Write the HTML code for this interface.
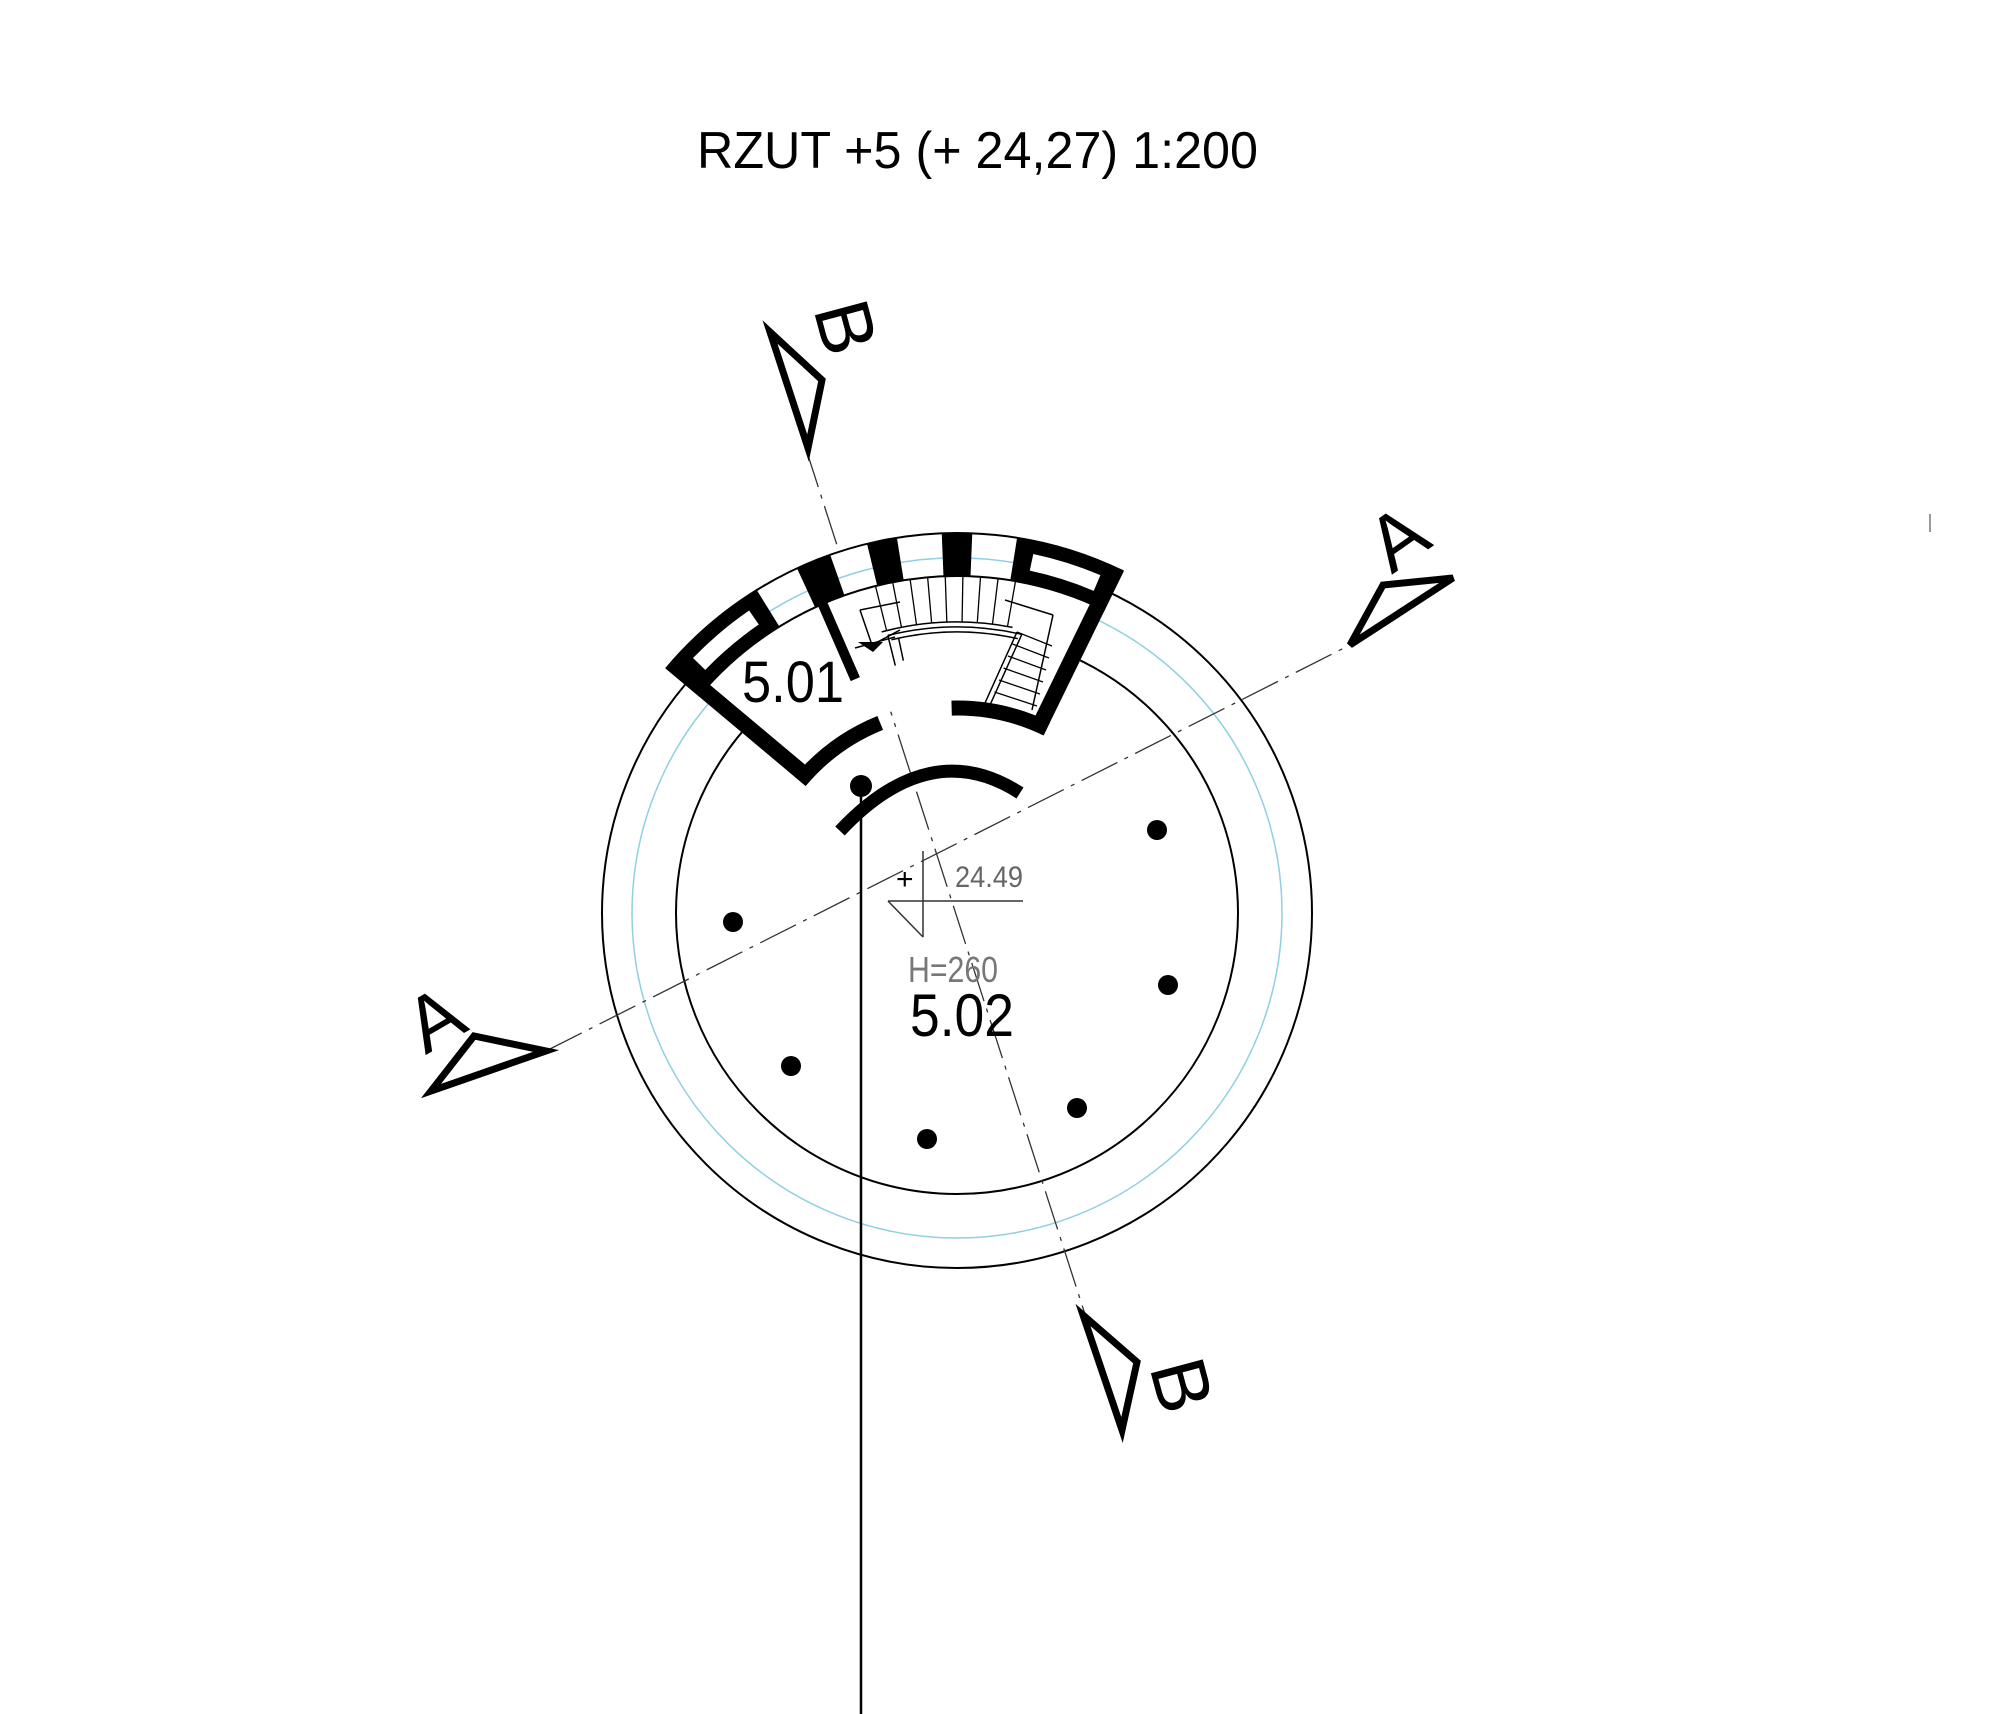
<!DOCTYPE html>
<html><head><meta charset="utf-8"><style>
html,body{margin:0;padding:0;background:#fff;}
svg{display:block;}
text{font-family:"Liberation Sans",sans-serif;}
</style></head><body>
<svg id="s" width="2000" height="1714" viewBox="0 0 2000 1714" xmlns="http://www.w3.org/2000/svg">
<rect width="2000" height="1714" fill="#fff"/>
<text x="697" y="168" font-size="52" textLength="561" lengthAdjust="spacingAndGlyphs">RZUT +5 (+ 24,27) 1:200</text>
<circle cx="957" cy="913" r="355" fill="none" stroke="#000" stroke-width="2"/>
<circle cx="957" cy="913" r="325" fill="none" stroke="#8fd0e0" stroke-width="1.5"/>
<circle cx="957" cy="913" r="281" fill="none" stroke="#000" stroke-width="2"/>
<line x1="806" y1="449" x2="1122" y2="1429" stroke="#333" stroke-width="1.3" stroke-dasharray="40 8 4 8"/>
<line x1="546" y1="1051" x2="1350" y2="645" stroke="#333" stroke-width="1.3" stroke-dasharray="40 8 4 8"/>
<g id="bld"></g>
<g fill="none" stroke="#000" stroke-width="7" stroke-linejoin="miter">
<polygon points="770,332 822,380 808,448"/>
<polygon points="1083,1315 1137,1362 1122,1430"/>
<polygon points="431,1091 474,1036 546,1051"/>
<polygon points="1350,645 1383,585 1453,578"/>
</g>
<g font-size="78" fill="#000" text-anchor="middle">
<text transform="translate(847,327) rotate(75)" y="28">B</text>
<text transform="translate(1183,1385) rotate(75)" y="28">B</text>
<text transform="translate(434,1018) rotate(-30)" y="28">A</text>
<text transform="translate(1397,537) rotate(-35)" y="28">A</text>
</g>
<g fill="#000">
<circle cx="1157" cy="830" r="10"/><circle cx="733" cy="922" r="10"/><circle cx="1168" cy="985" r="10"/>
<circle cx="791" cy="1066" r="10"/><circle cx="1077" cy="1108" r="10"/><circle cx="927" cy="1139" r="10"/>
<circle cx="861" cy="786" r="11"/>
</g>
<line x1="861" y1="786" x2="861" y2="1714" stroke="#000" stroke-width="2.5"/>
<path d="M840,831 Q930,735 1020,793" fill="none" stroke="#000" stroke-width="13"/>
<g stroke="#333" stroke-width="1.5" fill="none">
<line x1="923" y1="851" x2="923" y2="937"/>
<line x1="888" y1="901" x2="1023" y2="901"/>
<line x1="888" y1="901" x2="923" y2="937"/>
</g>
<text x="896" y="889" font-size="30" fill="#000">+</text>
<text x="955" y="887" font-size="30" fill="#666" textLength="68" lengthAdjust="spacingAndGlyphs">24.49</text>
<text x="908" y="982" font-size="36" fill="#777" textLength="90" lengthAdjust="spacingAndGlyphs">H=260</text>
<text x="910" y="1036" font-size="60" fill="#000" textLength="104" lengthAdjust="spacingAndGlyphs">5.02</text>
<text x="742" y="702" font-size="58" fill="#000" textLength="102" lengthAdjust="spacingAndGlyphs">5.01</text>
<line x1="1930" y1="514" x2="1930" y2="532" stroke="#777" stroke-width="1.5"/>
</svg>
<script>
(function(){
var cx=957,cy=913,g=document.getElementById('bld'),NS='http://www.w3.org/2000/svg';
function P(a,r){var t=a*Math.PI/180;return [cx+r*Math.sin(t),cy-r*Math.cos(t)];}
function add(tag,at){var e=document.createElementNS(NS,tag);for(var k in at)e.setAttribute(k,at[k]);g.appendChild(e);return e;}
function sector(a1,a2,r1,r2,fill){var p1=P(a1,r2),p2=P(a2,r2),p3=P(a2,r1),p4=P(a1,r1);
add('path',{d:'M'+p1+' A'+r2+','+r2+' 0 0 1 '+p2+' L'+p3+' A'+r1+','+r1+' 0 0 0 '+p4+'Z',fill:fill});}
function arc(a1,a2,r,w,col){var p1=P(a1,r),p2=P(a2,r);add('path',{d:'M'+p1+' A'+r+','+r+' 0 0 1 '+p2,fill:'none',stroke:col||'#000','stroke-width':w});}
function rad(a,r1,r2,w,off){var t=a*Math.PI/180,tx=Math.cos(t),ty=Math.sin(t);var p=P(a,r1),q=P(a,r2);
add('line',{x1:p[0]+tx*off,y1:p[1]+ty*off,x2:q[0]+tx*off,y2:q[1]+ty*off,stroke:'#000','stroke-width':w});}
sector(-50,26,212,380,'#fff');
arc(-50,26,380,2);arc(-50,26,337,2);
arc(-40,10,355,1.5,'#8fd0e0');
sector(-50,-31.8,337,380,'#000');sector(-46,-34.5,350,367,'#fff');
sector(-24.9,-19.5,337,380,'#000');
sector(-13.7,-9.1,337,380,'#000');
sector(-2.3,2.3,337,380,'#000');
sector(9.1,26,337,380,'#000');sector(12,23,350,367,'#fff');
rad(-50,198,380,16,8);
rad(26,198,380,16,-8);
arc(-50,-22,205,15);arc(-1.5,26,205,15);
rad(-23.5,255,343,10,0);
arc(-15,11,291,1.5);
for(var a=-14;a<=10.5;a+=3){rad(a,291,337,1.3,0);}
arc(-14,13,286,1.5);arc(-13.5,12.5,281,1.5);
rad(-14,255,286,1.5,0);rad(-12,258,281,1.5,0);
var L=[[860,610,900,602],[860,610,872,645],[855,648,895,637],[872,645,900,630],[1005,600,1053,615],[1053,615,1032,710],[1017,632,985,703],[1022,634,990,705]];
L.forEach(function(l){add('line',{x1:l[0],y1:l[1],x2:l[2],y2:l[3],stroke:'#000','stroke-width':1.5});});
for(var i=0;i<7;i++){var y=632+i*12;add('line',{x1:1017-i*4.5,y1:y,x2:1052-i*3,y2:y+14,stroke:'#000','stroke-width':1.3});}
add('polygon',{points:'858,642 883,642 873,652',fill:'#000'});
})();
</script>
</body></html>
